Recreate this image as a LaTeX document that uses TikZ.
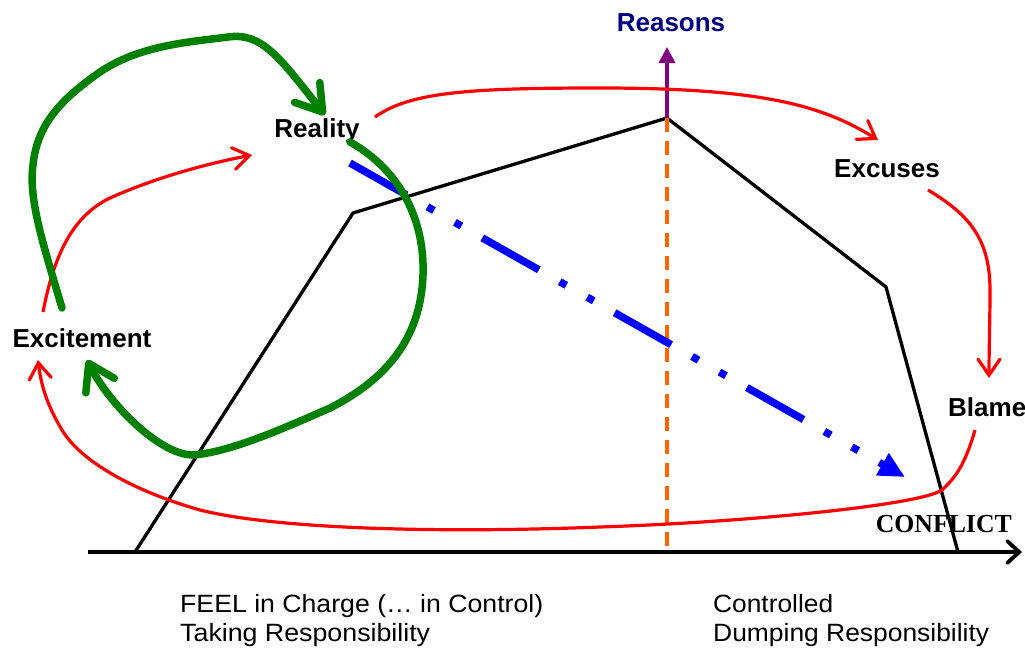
\documentclass[tikz,border=0pt]{standalone}
\usepackage{fontspec}
\setmainfont{Liberation Sans}
\newfontfamily\timesfont{Liberation Serif}
\usetikzlibrary{arrows.meta}
\definecolor{grn}{RGB}{0,128,0}
\definecolor{org}{RGB}{255,102,0}
\definecolor{purp}{RGB}{128,0,128}
\definecolor{navy}{RGB}{0,0,128}
\definecolor{rd}{RGB}{255,0,0}
\definecolor{bl}{RGB}{0,0,255}
\tikzset{
  lbl/.style={font=\fontsize{26}{30}\selectfont\bfseries, inner sep=0pt, anchor=base},
  bottomtxt/.style={font=\fontsize{25}{25}\selectfont, inner sep=0pt, anchor=base west},
  redarrow/.style={draw=rd, line width=3.2pt, -{Straight Barb[length=16pt,width=22pt,line cap=round]}},
  greenarrow/.style={draw=grn, line width=7.5pt, line cap=round, -{Straight Barb[length=25pt,width=32pt,line cap=round,line join=round]}},
  outline/.style={draw=black, line width=3.3pt, line join=miter},
}
\begin{document}
\begin{tikzpicture}[x=1pt,y=-1pt]
\clip (0,0) rectangle (1025,648);
\fill[white] (0,0) rectangle (1025,648);

% axis
\coordinate (ax0) at (88,552);
\coordinate (ax1) at (1022,552);
\draw[line width=3.8pt, -{Straight Barb[length=12pt,width=22pt,line cap=round]}] (ax0) -- (ax1);

% black outline
\coordinate (p0) at (135,552);
\coordinate (p1) at (353,213);
\coordinate (p2) at (667,118);
\coordinate (p3) at (886,287);
\coordinate (p4) at (958,552);
\draw[outline] (p0) -- (p1) -- (p2) -- (p3) -- (p4);

% orange dashed
\coordinate (ob) at (667,552);
\draw[org, line width=3.3pt, dash pattern=on 14pt off 9pt] (p2) -- (ob);

% purple arrow to Reasons
\coordinate (rtip) at (667,47);
\draw[purp, line width=3.5pt, -{Triangle[length=16pt,width=16pt]}] (p2) -- (rtip);

% labels
\node[lbl, text=navy] (reasons) at (671,31) {Reasons};
\node[lbl] (reality) at (317,137) {Reality};
\node[lbl] (excuses) at (887,177) {Excuses};
\node[lbl] (excitement) at (82,347) {Excitement};
\node[lbl, anchor=base west] (blame) at (948,416) {Blame};
\node[font=\fontsize{26}{30}\selectfont\timesfont\bfseries, inner sep=0pt, anchor=base east] (conflict) at (1012,532) {\resizebox{136pt}{\height}{CONFLICT}};

% bottom texts
\node[bottomtxt] (t1) at (180,612) {\resizebox{363pt}{\height}{FEEL in Charge (\dots\ in Control)}};
\node[bottomtxt] (t2) at (180,641) {\resizebox{250pt}{\height}{Taking Responsibility}};
\node[bottomtxt] (t3) at (713,612) {\resizebox{120pt}{\height}{Controlled}};
\node[bottomtxt] (t4) at (713,641) {\resizebox{276pt}{\height}{Dumping Responsibility}};

% blue dash-dot arrow
\coordinate (b0) at (350,163);
\coordinate (b1) at (905,477);
\draw[bl, line width=7.5pt, dash pattern=on 65pt off 24pt on 7.5pt off 24pt on 7.5pt off 24pt,
  -{Triangle[length=26pt,width=24pt]}] (b0) -- (b1);

% red arrows
\coordinate (r1s) at (43,312);
\coordinate (r1e) at (252,155);
\path[redarrow] (r1s) .. controls (55,250) and (75,215) .. (110,198)
  .. controls (150,180) and (200,165) .. (r1e);

\coordinate (r2s) at (375,117);
\coordinate (r2e) at (878,140);
\path[redarrow] (r2s) .. controls (410,92) and (470,88) .. (600,88)
  .. controls (760,88) and (822,105) .. (r2e);

\coordinate (r3s) at (928,190);
\coordinate (r3e) at (989,378);
\path[redarrow] (r3s) .. controls (970,215) and (990,240) .. (990,290)
  .. controls (990,320) and (989,350) .. (r3e);

\coordinate (r4s) at (975,430);
\coordinate (r4e) at (38,360);
\path[redarrow] (r4s) .. controls (965,465) and (955,478) .. (942,490)
  .. controls (920,505) and (750,522) .. (600,527)
  .. controls (450,533) and (280,530) .. (200,510)
  .. controls (130,490) and (80,460) .. (62,430)
  .. controls (47,405) and (41,385) .. (r4e);

% green arrows
\coordinate (g1s) at (62,308);
\coordinate (g1e) at (325,115);
\path[greenarrow] (g1s) .. controls (45,250) and (28,200) .. (33,165)
  .. controls (37,125) and (60,100) .. (100,72)
  .. controls (140,45) and (190,42) .. (228,37)
  .. controls (262,32) and (280,58) .. (g1e);

\coordinate (g2s) at (350,142);
\coordinate (g2e) at (87,360);
\path[greenarrow] (g2s) .. controls (400,170) and (425,220) .. (423,275)
  .. controls (421,330) and (395,375) .. (330,408)
  .. controls (280,430) and (230,452) .. (193,455)
  .. controls (160,455) and (110,405) .. (g2e);
\end{tikzpicture}
\end{document}
